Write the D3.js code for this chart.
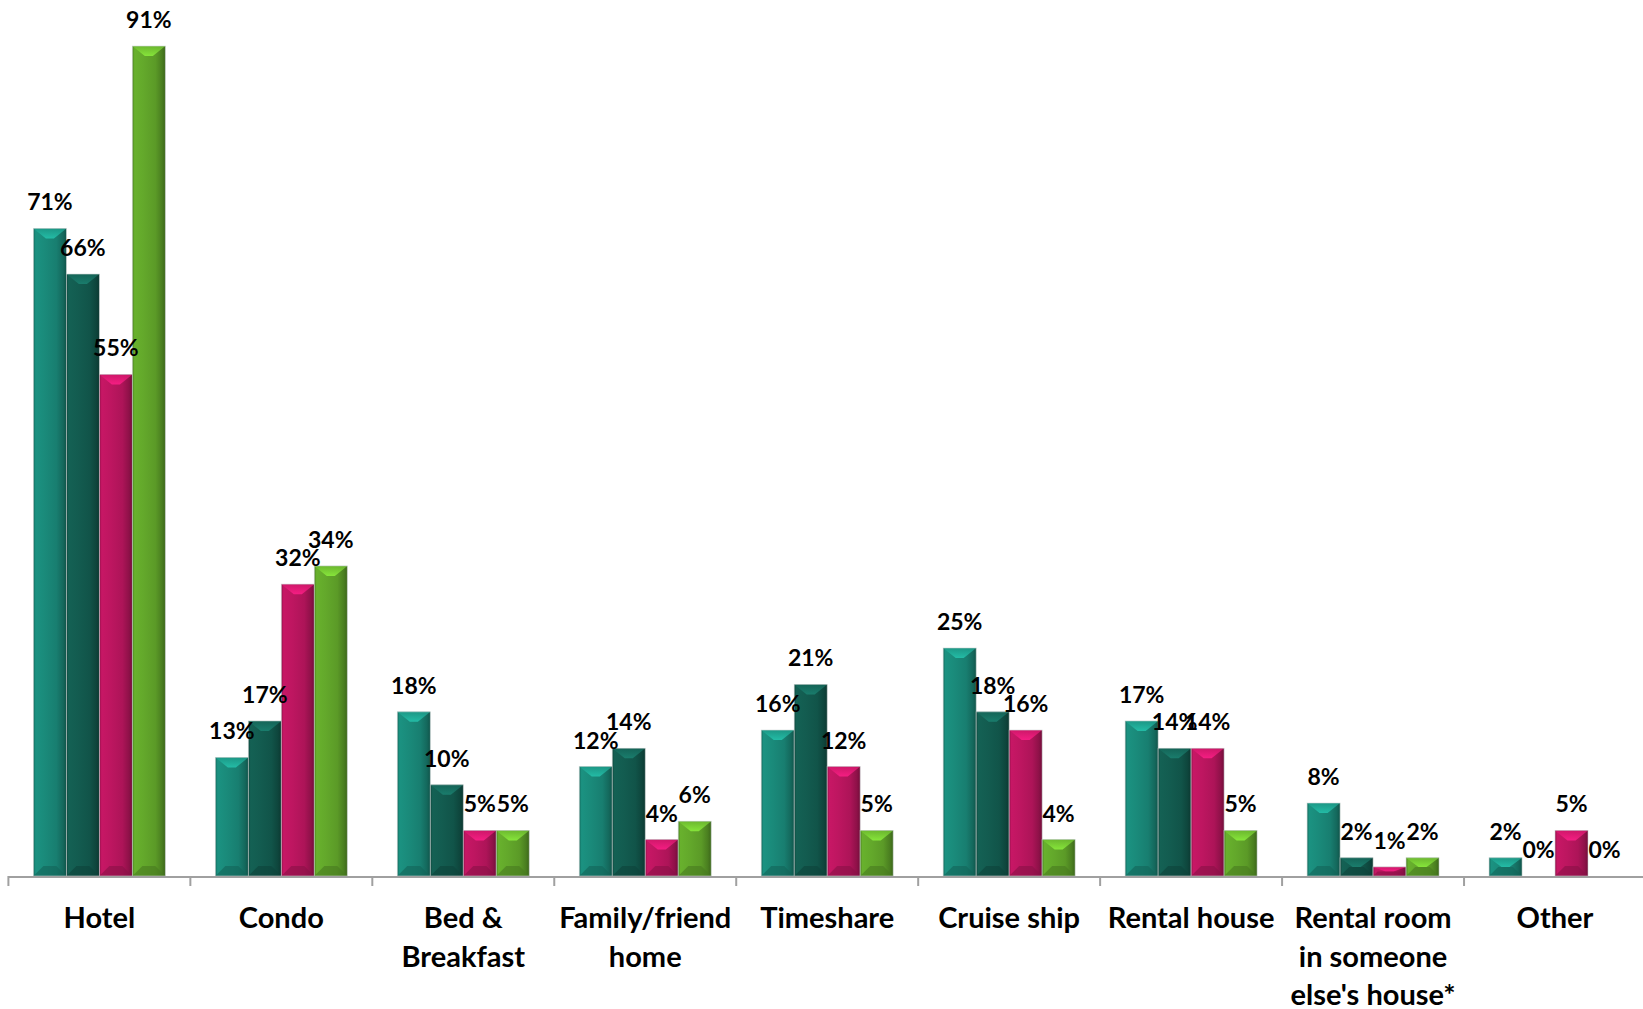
<!DOCTYPE html>
<html lang="en">
<head>
  <meta charset="UTF-8">
  <title>Accommodation type</title>
  <style>
    body{ margin: 0; background: #fff; }
    svg{ display: block; }
    text{ font-family: Lato, "Open Sans", sans-serif; font-weight: bold; fill: #000; }
  </style>
</head>
<body>
<svg width="1643" height="1009"></svg>

<script src="https://cdn.jsdelivr.net/npm/d3@7"></script>
<script>
  // data (percent)
  var categories = ['Hotel', 'Condo', 'Bed &\nBreakfast', 'Family/friend\nhome', 'Timeshare',
                    'Cruise ship', 'Rental house', 'Rental room\nin someone\nelse\'s house*', 'Other'];
  var seriesNames = ['Series 1', 'Series 2', 'Series 3', 'Series 4'];
  var series1 = [71, 13, 18, 12, 16, 25, 17, 8, 2];
  var series2 = [66, 17, 10, 14, 21, 18, 14, 2, 0];
  var series3 = [55, 32, 5, 4, 12, 16, 14, 1, 5];
  var series4 = [91, 34, 5, 6, 5, 4, 5, 2, 0];
  var colors = ['#1a8a7a', '#135c50', '#bd1660', '#63a82b'];

  var allSeries = [series1, series2, series3, series4];

  var svg = d3.select('svg'), width = +svg.attr('width'), height = +svg.attr('height');
  var baseY = 876;
  var g = svg.append('g');

  var x0 = d3.scaleBand().domain(d3.range(categories.length)).range([8.4, 1646]).paddingInner(0.275).paddingOuter(0.1375);
  var x1 = d3.scaleBand().domain(d3.range(seriesNames.length)).range([0, x0.bandwidth()]);
  var y = d3.scaleLinear().domain([0, 100]).range([baseY, baseY - 912]);

  // gradients for the bevelled bars
  var defs = svg.append('defs');
  colors.forEach(function (c, i) {
    var col = d3.color(c);
    var grad = defs.append('linearGradient').attr('id', 'grad' + i).attr('x1', 0).attr('x2', 1).attr('y1', 0).attr('y2', 0);
    [[0, col.darker(0.7)], [0.07, col.brighter(0.15)], [0.35, col], [0.7, col.darker(0.25)],
     [0.9, col.darker(0.8)], [1, col.darker(1.4)]].forEach(function (s) {
      grad.append('stop').attr('offset', s[0]).attr('stop-color', s[1]);
    });
    var top = defs.append('linearGradient').attr('id', 'top' + i).attr('x1', 0).attr('x2', 0).attr('y1', 0).attr('y2', 1);
    top.append('stop').attr('offset', 0).attr('stop-color', col.brighter(0.3));
    top.append('stop').attr('offset', 1).attr('stop-color', col.brighter(1.0));
  });

  // rows of bars, one group per category
  var rows = [];
  categories.forEach(function (cat, ci) {
    allSeries.forEach(function (vals, si) {
      rows.push({cat: ci, s: si, v: vals[ci]});
    });
  });

  var bars = g.selectAll('.bar').data(rows.filter(function (d) { return d.v > 0; })).enter().append('g').attr('class', 'bar');
  bars.each(function (d) {
    var el = d3.select(this);
    var bx = x0(d.cat) + x1(d.s), bw = x1.bandwidth(), by = y(d.v), bh = baseY - by;
    var b = Math.min(10, bh / 2);
    el.append('rect').attr('x', bx).attr('y', by).attr('width', bw).attr('height', bh)
      .attr('fill', 'url(#grad' + d.s + ')');
    // top facet
    el.append('path').attr('d', 'M' + bx + ',' + by + 'H' + (bx + bw) + 'L' + (bx + bw / 2 + 4) + ',' + (by + b) + 'H' + (bx + bw / 2 - 4) + 'Z')
      .attr('fill', 'url(#top' + d.s + ')').attr('opacity', 0.85);
    // bottom facet
    el.append('path').attr('d', 'M' + bx + ',' + baseY + 'H' + (bx + bw) + 'L' + (bx + bw - b) + ',' + (baseY - b) + 'H' + (bx + b) + 'Z')
      .attr('fill', d3.color(colors[d.s]).darker(0.9)).attr('opacity', 0.6);
    el.append('rect').attr('x', bx).attr('y', by).attr('width', bw).attr('height', bh)
      .attr('fill', 'none').attr('stroke', '#c8d0ce').attr('stroke-width', 0.8).attr('opacity', 0.7);
  });

  // value labels
  g.selectAll('.val').data(rows).enter().append('text').attr('class', 'val')
    .attr('x', function (d) { return x0(d.cat) + x1(d.s) + x1.bandwidth() / 2; })
    .attr('y', function (d) { return y(d.v) - 18; })
    .attr('text-anchor', 'middle').attr('font-size', 23)
    .text(function (d) { return d.v + '%'; });

  // axis line and ticks between categories
  var axis = g.append('g').attr('stroke', '#a0a0a0').attr('stroke-width', 2);
  axis.append('line').attr('x1', 8.4).attr('x2', width).attr('y1', baseY + 1).attr('y2', baseY + 1);
  var step = x0.step();
  axis.selectAll('.tick').data(d3.range(categories.length)).enter().append('line')
    .attr('x1', function (d) { return x0(d) - step * 0.1375; })
    .attr('x2', function (d) { return x0(d) - step * 0.1375; })
    .attr('y1', baseY).attr('y2', baseY + 10);

  // category labels
  var cl = g.selectAll('.cat').data(categories).enter().append('text').attr('class', 'cat')
    .attr('text-anchor', 'middle').attr('font-size', 29);
  cl.each(function (d, i) {
    var t = d3.select(this);
    d.split('\n').forEach(function (line, li) {
      t.append('tspan').attr('x', x0(i) + x0.bandwidth() / 2).attr('y', 928 + li * 38.5).text(line);
    });
  });
</script>
</body>
</html>
